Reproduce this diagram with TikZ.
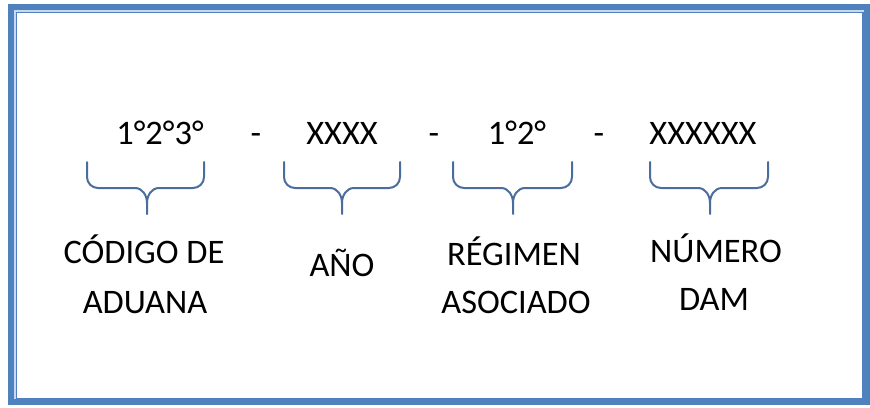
\documentclass[tikz,border=0pt]{standalone}
\usepackage{fontspec}
\setmainfont{Carlito}
\usepackage{tikz}
\usepackage{xcolor}
\definecolor{azulmarco}{HTML}{4F81BD}
\definecolor{azulclaro}{HTML}{C6D9F1}
\definecolor{azulllave}{HTML}{4A6D9E}

\begin{document}
\begin{tikzpicture}[line cap=round,x=0.5pt,y=-0.5pt]
\useasboundingbox (0,0) rectangle (870,407);
\tikzset{texto/.style={anchor=base,inner sep=0pt,font=\fontsize{17.2}{25}\selectfont},
  llave/.style={draw=azulllave,line width=1pt}}
% marco
\draw [azulclaro,line width=1.5pt] (14,10) rectangle (865,400);
\draw [azulmarco,line width=3pt] (11,7) rectangle (866.5,402);
\draw [azulmarco,line width=0.8pt] (16.5,12.5) rectangle (863,399);
% codigo
\node[texto] (cod1) at (160,144) {1°2°3°};
\node[texto] (guion1) at (256,144) {-};
\node[texto] (cod2) at (342,144) {XXXX};
\node[texto] (guion2) at (434,144) {-};
\node[texto] (cod3) at (517,144) {1°2°};
\node[texto] (guion3) at (599,144) {-};
\node[texto] (cod4) at (703,144) {XXXXXX};
% llaves
\foreach \l/\m/\r in {87/147/204,284/342/400,453/513/572,650/710/768}{
\draw [llave] (\l,162) -- (\l,177) to[out=-90,in=180] (\l+11,188) -- (\m-12,188)
  to[out=0,in=90] (\m,203) -- (\m,214);
\draw [llave] (\m,203) to[out=90,in=180] (\m+12,188) -- (\r-11,188)
  to[out=0,in=-90] (\r,177) -- (\r,162);
}
% nombres
\node[texto] (nom1a) at (144,263) {CÓDIGO DE};
\node[texto] (nom1b) at (145,313) {ADUANA};
\node[texto] (nom2) at (342,276) {AÑO};
\node[texto] (nom3a) at (514,265) {RÉGIMEN};
\node[texto] (nom3b) at (516,313) {ASOCIADO};
\node[texto] (nom4a) at (716,262) {NÚMERO};
\node[texto] (nom4b) at (714,310) {DAM};
\end{tikzpicture}
\end{document}
